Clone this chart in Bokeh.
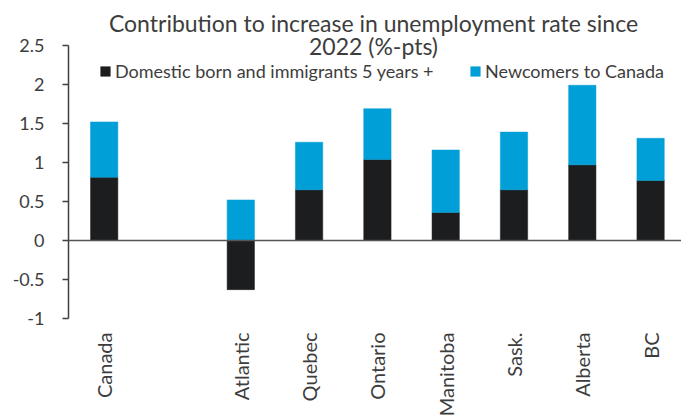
from math import pi
from bokeh.plotting import figure
from bokeh.models import (Range1d, FixedTicker, Span, Legend, LegendItem, Label,
                          ColumnDataSource, NumeralTickFormatter)
from bokeh.core.properties import value
from bokeh.embed import file_html
from bokeh.resources import INLINE

# ---- data ----
categories = ["Canada", "", "Atlantic", "Quebec", "Ontario", "Manitoba", "Sask.", "Alberta", "BC"]
domestic = [0.81, float("nan"), -0.63, 0.65, 1.04, 0.36, 0.65, 0.97, 0.77]
newcomers = [0.71, float("nan"), 0.52, 0.61, 0.65, 0.80, 0.74, 1.02, 0.54]
y_ticks = [-1, -0.5, 0, 0.5, 1, 1.5, 2, 2.5]
title_lines = ["Contribution to increase in unemployment rate since", "2022 (%-pts)"]
series_names = ["Domestic born and immigrants 5 years +", "Newcomers to Canada"]

FONT = "Lato"
TEXT = "#3d3d3d"
BLACK = "#1c1d1f"
BLUE = "#009fd7"

W, H = 681, 419
LEFT = 68
ZERO_PX = 240      # pixel row of the zero line
UNIT_PX = 78       # pixels per percentage point
CAT_PX = 68.3      # pixels per category slot
FIRST_PX = 35.7    # first category centre, from the plot's left edge

x = list(range(len(categories)))
stack_base = [max(d, 0) if d == d else float("nan") for d in domestic]
stack_top = [b + n for b, n in zip(stack_base, newcomers)]
src = ColumnDataSource(dict(x=x, dom=domestic, base=stack_base, top=stack_top))
lab_src = ColumnDataSource(dict(x=[i for i, c in enumerate(categories) if c],
                                y=[min(y_ticks)] * sum(1 for c in categories if c),
                                t=[c for c in categories if c]))

x0 = -FIRST_PX / CAT_PX
x1 = x0 + (W - LEFT) / CAT_PX
y1 = ZERO_PX / UNIT_PX
y0 = -(H - ZERO_PX) / UNIT_PX

p = figure(width=W, height=H, output_backend="svg", toolbar_location=None, title=None,
           x_range=Range1d(x0, x1), y_range=Range1d(y0, y1), x_axis_location=None,
           min_border_left=LEFT, min_border_right=0, min_border_top=0, min_border_bottom=0)
p.outline_line_color = None
p.background_fill_color = "white"
p.border_fill_color = "white"
p.xgrid.visible = False
p.ygrid.visible = False

r_dom = p.vbar(x="x", bottom=0, top="dom", width=0.4, source=src,
               fill_color=BLACK, line_color=BLACK, line_width=0.5)
r_new = p.vbar(x="x", bottom="base", top="top", width=0.4, source=src,
               fill_color=BLUE, line_color=BLUE, line_width=0.5)

p.add_layout(Span(location=0, dimension="width", line_color="#555555", line_width=1.5))

# y axis
ya = p.yaxis[0]
ya.ticker = FixedTicker(ticks=y_ticks)
ya.formatter = NumeralTickFormatter(format="0.[0]")
ya.bounds = (min(y_ticks), max(y_ticks))
ya.axis_line_color = "#404040"
ya.axis_line_width = 1.5
ya.major_tick_line_color = "#404040"
ya.major_tick_line_width = 1.5
ya.major_tick_in = 0
ya.major_tick_out = 6
ya.minor_tick_line_color = None
ya.major_label_standoff = 18
ya.major_label_text_font = FONT
ya.major_label_text_font_size = "18px"
ya.major_label_text_color = TEXT

# category labels, hanging below the bottom of the y axis
p.text(x="x", y="y", text="t", source=lab_src, angle=pi / 2, y_offset=14,
       text_align="right", text_baseline="middle", text_font=value(FONT),
       text_font_size="20px", text_color=TEXT)

# title
for i, t in enumerate(title_lines):
    p.add_layout(Label(x=305, y=H - 22 - 23.5 * i, x_units="screen", y_units="screen", text=t,
                       text_align="center", text_baseline="alphabetic",
                       text_font=FONT, text_font_size="23px", text_color=TEXT))

# legends
for rend, name, xpos in [(r_dom, series_names[0], 31), (r_new, series_names[1], 401)]:
    lg = Legend(items=[LegendItem(label=name, renderers=[rend])], location=(xpos, H - 82),
                orientation="horizontal", padding=0, margin=0, spacing=0,
                glyph_width=12, glyph_height=12, label_standoff=4, label_height=12,
                label_text_font=FONT, label_text_font_size="18px", label_text_color=TEXT,
                label_text_baseline="middle",
                background_fill_alpha=0, border_line_color=None)
    p.add_layout(lg)

open("out.html", "w").write(file_html(p, INLINE))
